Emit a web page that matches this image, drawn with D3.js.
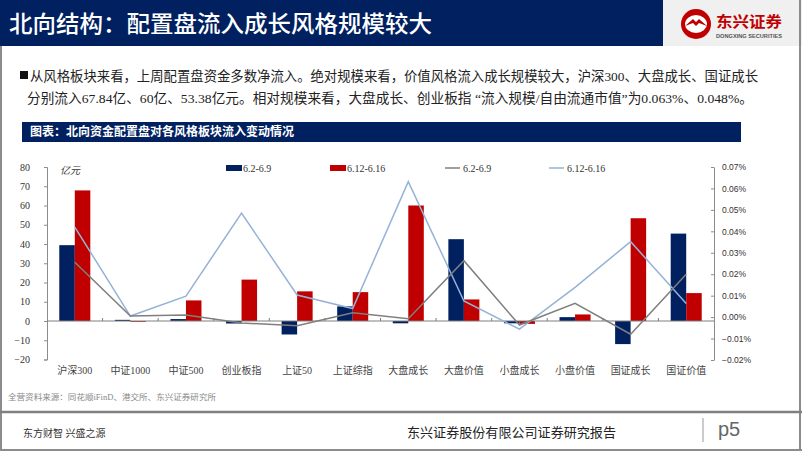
<!DOCTYPE html>
<html>
<head>
<meta charset="utf-8">
<script src="https://cdn.jsdelivr.net/npm/d3@7"></script>
<style>
  body { margin: 0; background: #fff; }
  svg { display: block; }
</style>
</head>
<body>
<div id="chart"></div>
<script>
// data
var categories = ["沪深300", "中证1000", "中证500", "创业板指", "上证50", "上证综指",
                  "大盘成长", "大盘价值", "小盘成长", "小盘价值", "国证成长", "国证价值"];
var barSeries = ["6.2-6.9", "6.12-6.16"];
var barsWeek1 = [39.4, 0.6, 1.0, -1.3, -7.0, 7.6, -1.2, 42.5, -1.2, 2.0, -12.0, 45.4];
var barsWeek2 = [67.84, -0.4, 10.7, 21.5, 15.4, 15.0, 60.0, 11.2, -1.5, 3.4, 53.38, 14.5];
// percent of free float, in %
var lineWeek1 = [0.0256, 0.0005, 0.0010, -0.0027, -0.0040, 0.0020, -0.0008, 0.0263, -0.0037, 0.0064, -0.0080, 0.0200];
var lineWeek2 = [0.0420, 0.0005, 0.0098, 0.0485, 0.0103, 0.0040, 0.0632, 0.0075, -0.0056, 0.0139, 0.0352, 0.0064];
var leftTicks = [80, 70, 60, 50, 40, 30, 20, 10, 0, -10, -20];
var rightTicks = [0.07, 0.06, 0.05, 0.04, 0.03, 0.02, 0.01, 0, -0.01, -0.02];

var navy = "#002060", red = "#c00000", gray = "#7f7f7f", lightBlue = "#95b3d7";
var cjk = "'Liberation Serif', 'Noto Sans CJK SC', serif";
var cjkSans = "'Noto Sans CJK SC', sans-serif";

var W = 802, H = 451;
var svg = d3.select("#chart").append("svg").attr("width", W).attr("height", H);

// ---- page frame / header ----
svg.append("rect").attr("x", 0).attr("y", 0).attr("width", W).attr("height", H).attr("fill", "#fff");
svg.append("rect").attr("x", 0).attr("y", 0).attr("width", 663).attr("height", 46).attr("fill", navy);
svg.append("rect").attr("x", 663).attr("y", 0).attr("width", 139).attr("height", 46).attr("fill", "#f0f0f0");
svg.append("text").attr("x", 9).attr("y", 32)
    .attr("font-family", cjkSans).attr("font-size", 23).attr("font-weight", 500)
    .attr("fill", "#fff").attr("textLength", 423).attr("lengthAdjust", "spacingAndGlyphs")
    .text("北向结构：配置盘流入成长风格规模较大");

// logo
var logo = svg.append("g").attr("transform", "translate(696,24)");
logo.append("circle").attr("r", 15).attr("fill", red);
logo.append("ellipse").attr("rx", 11).attr("ry", 9).attr("fill", "#fff");
logo.append("path").attr("d", "M-11,2 L-3,-5 L0,-2 L3,-5 L11,2 L3,-1 L0,2 L-3,-1 Z").attr("fill", red);
svg.append("text").attr("x", 716).attr("y", 27)
    .attr("font-family", cjkSans).attr("font-size", 15).attr("font-weight", 700)
    .attr("fill", red).attr("textLength", 66).attr("lengthAdjust", "spacingAndGlyphs")
    .text("东兴证券");
svg.append("text").attr("x", 716).attr("y", 38)
    .attr("font-family", "'Liberation Sans', sans-serif").attr("font-size", 4.5).attr("font-weight", 700)
    .attr("fill", "#555").attr("textLength", 66).attr("lengthAdjust", "spacingAndGlyphs")
    .text("DONGXING SECURITIES");

// side borders
svg.append("line").attr("x1", 1).attr("x2", 1).attr("y1", 46).attr("y2", H).attr("stroke", "#8c8c8c").attr("stroke-width", 2);
svg.append("line").attr("x1", 800).attr("x2", 800).attr("y1", 0).attr("y2", H).attr("stroke", "#8c8c8c").attr("stroke-width", 2);

// ---- bullet text ----
svg.append("rect").attr("x", 20).attr("y", 71).attr("width", 8).attr("height", 8).attr("fill", "#111");
svg.append("text").attr("x", 30).attr("y", 80.5)
    .attr("font-family", cjk).attr("font-size", 13.3).attr("fill", "#222")
    .attr("textLength", 728).attr("lengthAdjust", "spacingAndGlyphs")
    .text("从风格板块来看，上周配置盘资金多数净流入。绝对规模来看，价值风格流入成长规模较大，沪深300、大盘成长、国证成长");
svg.append("text").attr("x", 27).attr("y", 102.5)
    .attr("font-family", cjk).attr("font-size", 13.3).attr("fill", "#222")
    .attr("textLength", 726).attr("lengthAdjust", "spacingAndGlyphs")
    .text("分别流入67.84亿、60亿、53.38亿元。相对规模来看，大盘成长、创业板指 “流入规模/自由流通市值”为0.063%、0.048%。");

// chart title bar
svg.append("rect").attr("x", 22).attr("y", 122).attr("width", 719).attr("height", 20).attr("fill", navy);
svg.append("text").attr("x", 30).attr("y", 136)
    .attr("font-family", cjkSans).attr("font-size", 12).attr("font-weight", 700).attr("fill", "#fff")
    .text("图表：北向资金配置盘对各风格板块流入变动情况");

// ---- chart ----
var x0 = d3.scaleBand().domain(categories).range([47, 714]).paddingInner(0.442).paddingOuter(0.221);
var x1 = d3.scaleBand().domain(barSeries).range([0, x0.bandwidth()]);
var yL = d3.scaleLinear().domain([-20, 80]).range([359.5, 167]);
var yR = d3.scaleLinear().domain([-0.02, 0.07]).range([360, 167]);
var cx = function(c) { return x0(c) + x0.bandwidth() / 2; };

var axisColor = "#8c8c8c";

// left axis
var gL = svg.append("g").attr("transform", "translate(47,0)")
    .call(d3.axisLeft(yL).tickValues(leftTicks).tickSize(3).tickPadding(14));
gL.select(".domain").attr("stroke", axisColor);
gL.selectAll(".tick line").attr("stroke", axisColor);
gL.selectAll(".tick text").attr("font-family", "'Liberation Serif', serif").attr("font-size", 10).attr("fill", "#333");

// right axis
var gR = svg.append("g").attr("transform", "translate(714,0)")
    .call(d3.axisRight(yR).tickValues(rightTicks).tickSize(0).tickPadding(8)
        .tickFormat(function(d) { return d3.format(".2f")(d) + "%"; }));
gR.select(".domain").attr("stroke", axisColor);
gR.selectAll(".tick").append("line").attr("x1", -3).attr("x2", 0).attr("stroke", axisColor);
gR.selectAll(".tick text").attr("font-family", "'Liberation Sans', sans-serif").attr("font-size", 8.5).attr("fill", "#333");

// bars
var barData = categories.map(function(c, i) {
    return { cat: c, vals: [{ s: barSeries[0], v: barsWeek1[i], col: navy }, { s: barSeries[1], v: barsWeek2[i], col: red }] };
});
svg.append("g").selectAll("g").data(barData).join("g")
    .attr("transform", function(d) { return "translate(" + x0(d.cat) + ",0)"; })
  .selectAll("rect").data(function(d) { return d.vals; }).join("rect")
    .attr("x", function(d) { return x1(d.s); })
    .attr("width", x1.bandwidth())
    .attr("y", function(d) { return yL(Math.max(0, d.v)); })
    .attr("height", function(d) { return Math.max(0.8, Math.abs(yL(d.v) - yL(0))); })
    .attr("fill", function(d) { return d.col; });

// category axis at zero
var gX = svg.append("g").attr("transform", "translate(0," + yL(0) + ")");
gX.append("line").attr("x1", 47).attr("x2", 714).attr("stroke", "#7f7f7f").attr("stroke-width", 1);
gX.selectAll(".tk").data(categories.slice(1)).join("line").attr("class", "tk")
    .attr("x1", function(c) { return x0(c) - x0.step() * 0.221; })
    .attr("x2", function(c) { return x0(c) - x0.step() * 0.221; })
    .attr("y1", -3).attr("y2", 0).attr("stroke", "#7f7f7f");
svg.append("g").selectAll("text").data(categories).join("text")
    .attr("x", cx).attr("y", 374).attr("text-anchor", "middle")
    .attr("font-family", cjk).attr("font-size", 10).attr("fill", "#444")
    .text(function(c) { return c; });

// lines
var line = d3.line().x(function(d) { return d[0]; }).y(function(d) { return yR(d[1]); });
svg.append("path").datum(categories.map(function(c, i) { return [cx(c), lineWeek2[i]]; }))
    .attr("d", line).attr("fill", "none").attr("stroke", lightBlue).attr("stroke-width", 1.5);
svg.append("path").datum(categories.map(function(c, i) { return [cx(c), lineWeek1[i]]; }))
    .attr("d", line).attr("fill", "none").attr("stroke", gray).attr("stroke-width", 1.5);

// unit label
svg.append("text").attr("x", 60).attr("y", 174)
    .attr("font-family", cjk).attr("font-size", 10).attr("font-style", "italic").attr("fill", "#333")
    .text("亿元");

// legend
var legend = [
    { label: "6.2-6.9", type: "bar", col: navy, x: 226 },
    { label: "6.12-6.16", type: "bar", col: red, x: 330 },
    { label: "6.2-6.9", type: "line", col: gray, x: 445 },
    { label: "6.12-6.16", type: "line", col: lightBlue, x: 549 }
];
var lg = svg.append("g").selectAll("g").data(legend).join("g")
    .attr("transform", function(d) { return "translate(" + d.x + ",168)"; });
lg.filter(function(d) { return d.type === "bar"; }).append("rect")
    .attr("x", 0).attr("y", -3).attr("width", 16).attr("height", 6).attr("fill", function(d) { return d.col; });
lg.filter(function(d) { return d.type === "line"; }).append("line")
    .attr("x1", 0).attr("x2", 15).attr("stroke", function(d) { return d.col; }).attr("stroke-width", 1.5);
lg.append("text").attr("x", function(d) { return d.type === "bar" ? 17 : 18; }).attr("y", 3.5)
    .attr("font-family", "'Liberation Serif', serif").attr("font-size", 10).attr("fill", "#333")
    .text(function(d) { return d.label; });

// ---- footer ----
svg.append("text").attr("x", 8).attr("y", 400)
    .attr("font-family", cjk).attr("font-size", 8).attr("fill", "#888")
    .attr("textLength", 208).attr("lengthAdjust", "spacingAndGlyphs")
    .text("全营资料来源：同花顺iFinD、港交所、东兴证券研究所");
svg.append("line").attr("x1", 0).attr("x2", W).attr("y1", 412).attr("y2", 412).attr("stroke", "#808080").attr("stroke-width", 2.5);
svg.append("text").attr("x", 23).attr("y", 437)
    .attr("font-family", cjk).attr("font-size", 10).attr("fill", "#333")
    .text("东方财智 兴盛之源");
svg.append("text").attr("x", 407).attr("y", 437)
    .attr("font-family", cjkSans).attr("font-size", 13).attr("fill", "#222")
    .attr("textLength", 209).attr("lengthAdjust", "spacingAndGlyphs")
    .text("东兴证券股份有限公司证券研究报告");
svg.append("line").attr("x1", 703).attr("x2", 703).attr("y1", 418).attr("y2", 442).attr("stroke", "#999").attr("stroke-width", 1);
svg.append("text").attr("x", 718).attr("y", 436)
    .attr("font-family", "'Liberation Sans', sans-serif").attr("font-size", 20).attr("fill", "#666")
    .text("p5");
svg.append("line").attr("x1", 0).attr("x2", W).attr("y1", 450).attr("y2", 450).attr("stroke", "#8c8c8c").attr("stroke-width", 2);
</script>
</body>
</html>
